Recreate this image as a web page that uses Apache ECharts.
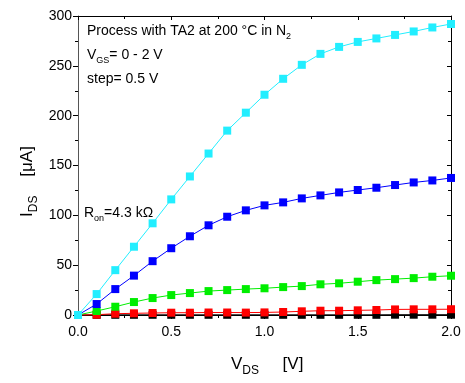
<!DOCTYPE html>
<html>
<head>
<meta charset="utf-8">
<script src="https://cdn.jsdelivr.net/npm/echarts@6/dist/echarts.min.js"></script>
<style>
  html,body{margin:0;padding:0;background:#fff;}
  #container{width:465px;height:383px;}
</style>
</head>
<body>
<div id="container"></div>
<script>
// V_DS sweep [V]
var vds = [0, 0.1, 0.2, 0.3, 0.4, 0.5, 0.6, 0.7, 0.8, 0.9, 1.0,
           1.1, 1.2, 1.3, 1.4, 1.5, 1.6, 1.7, 1.8, 1.9, 2.0];
// I_DS [uA] for each V_GS step
var ids0  = [0, 0.2, 0.2, 0.2, 0.2, 0.2, 0.2, 0.2, 0.2, 0.2, 0.2,
             0.2, 0.2, 0.2, 0.2, 0.2, 0.2, 0.3, 0.3, 0.3, 0.3];
var ids05 = [0, 0.3, 1.3, 1.7, 2, 2.3, 2.3, 2.5, 2.5, 2.4, 2.6,
             3, 3.7, 4.3, 4.3, 4.7, 5, 5.6, 5.7, 5.7, 5.8];
var ids10 = [0, 4, 8.3, 13, 17, 20, 22, 24, 25, 26, 26.8,
             28, 29, 30.8, 31.8, 33.4, 35, 36, 37, 38.4, 39.4];
var ids15 = [0, 11, 26, 39.5, 54, 67, 79, 90, 98.6, 105, 110,
             113, 117, 120, 123, 125.4, 127.7, 130.4, 133, 135, 137.5];
var ids20 = [0, 21, 45, 68.5, 92, 116, 139, 162, 185, 203, 221,
             237, 251, 262, 269, 274, 277.5, 281, 284.5, 288.5, 292];
var seriesNames = ['0 V', '0.5 V', '1.0 V', '1.5 V', '2.0 V'];
var seriesColors = ['#000000', '#ff0000', '#00ee00', '#0000ff', '#22eeff'];
var xTicks = ['0.0', '0.5', '1.0', '1.5', '2.0'];

var FONT = 'Liberation Sans';

function pairs(ys){
  return vds.map(function(x, i){ return [x, ys[i]]; });
}

var allData = [ids0, ids05, ids10, ids15, ids20];

var myChart = echarts.init(document.getElementById('container'), null, {renderer:'canvas'});

var series = allData.map(function(d, i){
  return {
    name: seriesNames[i],
    type: 'line',
    data: pairs(d),
    symbol: 'rect',
    symbolSize: 8,
    showSymbol: true,
    clip: false,
    lineStyle: {color: seriesColors[i], width: 1},
    itemStyle: {color: seriesColors[i]},
    z: 2 + i,
    animation: false
  };
});

var subRich = {
  a: {fontFamily: FONT, fontSize: 14, color: '#000', lineHeight: 18, verticalAlign: 'bottom'},
  s: {fontFamily: FONT, fontSize: 9, color: '#000', lineHeight: 14, verticalAlign: 'bottom', padding: [0, 0, -3, 0]}
};
var titleRich = {
  a: {fontFamily: FONT, fontSize: 17, color: '#000', lineHeight: 22, verticalAlign: 'bottom'},
  s: {fontFamily: FONT, fontSize: 12, color: '#000', lineHeight: 16, verticalAlign: 'bottom', padding: [0, 0, -4, 0]}
};

var option = {
  animation: false,
  grid: {left: 78, right: 14, top: 16, bottom: 68, containLabel: false},
  xAxis: [{
    type: 'value', min: 0, max: 2, interval: 0.5,
    axisLine: {show: true, lineStyle: {color: '#000', width: 1}},
    axisTick: {show: true, inside: false, length: 4, lineStyle: {color: '#000'}},
    minorTick: {show: true, splitNumber: 2, length: 3, lineStyle: {color: '#000'}},
    splitLine: {show: false},
    axisLabel: {
      fontFamily: FONT, fontSize: 14, color: '#000', margin: 10,
      formatter: function(v){ return xTicks[Math.round(v * 2)]; }
    }
  }, {
    type: 'value', min: 0, max: 2, interval: 0.5, position: 'top',
    axisLine: {show: true, onZero: false, lineStyle: {color: '#000', width: 1}},
    axisTick: {show: true, inside: true, length: 4, lineStyle: {color: '#000'}},
    minorTick: {show: true, splitNumber: 2, length: 3, lineStyle: {color: '#000'}},
    splitLine: {show: false},
    axisLabel: {show: false}
  }],
  yAxis: [{
    type: 'value', min: 0, max: 300, interval: 50,
    axisLine: {show: true, lineStyle: {color: '#555', width: 1}},
    axisTick: {show: true, inside: false, length: 5, lineStyle: {color: '#000'}},
    minorTick: {show: true, splitNumber: 2, length: 3, lineStyle: {color: '#000'}},
    splitLine: {show: false},
    axisLabel: {fontFamily: FONT, fontSize: 14, color: '#000', margin: 6}
  }, {
    type: 'value', min: 0, max: 300, interval: 50, position: 'right',
    axisLine: {show: true, onZero: false, lineStyle: {color: '#000', width: 1}},
    axisTick: {show: true, inside: true, length: 4, lineStyle: {color: '#000'}},
    minorTick: {show: true, splitNumber: 2, length: 3, lineStyle: {color: '#000'}},
    splitLine: {show: false},
    axisLabel: {show: false}
  }],
  series: series,
  graphic: [
    {
      type: 'text', left: 87, top: 24, z: 100,
      style: {text: '{a|Process with TA2 at 200 °C in N}{s|2}', rich: subRich}
    },
    {
      type: 'text', left: 87, top: 48, z: 100,
      style: {text: '{a|V}{s|GS}{a|= 0 - 2 V}', rich: subRich}
    },
    {
      type: 'text', left: 87, top: 72, z: 100,
      style: {text: '{a|step= 0.5 V}', rich: subRich}
    },
    {
      type: 'text', left: 84, top: 206, z: 100,
      style: {text: '{a|R}{s|on}{a|=4.3 kΩ}', rich: subRich}
    },
    {
      type: 'text', left: 231, top: 356, z: 100,
      style: {text: '{a|V}{s|DS}{a|     [V]}', rich: titleRich}
    },
    {
      type: 'text', x: 14, y: 217, rotation: Math.PI / 2, z: 100,
      style: {text: '{a|I}{s|DS}{a|    [μA]}', rich: titleRich}
    }
  ]
};

myChart.setOption(option);
</script>
</body>
</html>
